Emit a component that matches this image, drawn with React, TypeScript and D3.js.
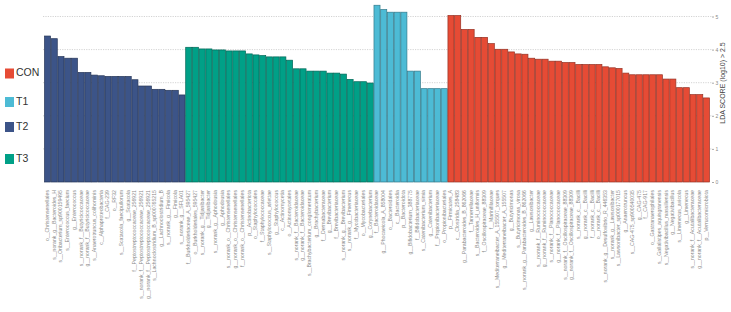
import React, { useRef, useEffect } from "react";
import * as d3 from "d3";

// group order along the x axis
const groups = ["T2", "T3", "T1", "CON"];
const legendGroups = ["CON", "T1", "T2", "T3"];
const groupColors = ["#E64B35", "#4DBBD5", "#3C5488", "#00A087"];

const t2Taxa = [
  "o__Christensenellales", "s__norank_g__Bacteroides_H", "s__Oribacterium_sp900159495", "s__Enterococcus_faecium",
  "g__Enterococcus", "s__norank_f__Butyricicoccaceae", "g__norank_f__Butyricicoccaceae", "s__Anaerotruncus_colihominis",
  "c__Alphaproteobacteria", "f__CAG-239", "o__RF32", "s__Scatacola_faecipullorum", "g__Scatacola",
  "f__Peptostreptococcaceae_256921", "s__norank_f__Peptostreptococcaceae_256921", "g__norank_f__Peptostreptococcaceae_256921",
  "s__Lachnoclostridium_B_sp000765215", "g__Lachnoclostridium_B", "s__norank_g__Fimicola", "g__Fimicola", "s__norank_g__SFLA01",
];
const t2Scores = [4.41, 4.33, 3.79, 3.74, 3.74, 3.31, 3.31, 3.23, 3.21, 3.19, 3.19, 3.19, 3.19, 3.09, 2.9, 2.9, 2.8, 2.8, 2.77, 2.77, 2.63];

const t3Taxa = [
  "f__Burkholderiaceae_A_595427", "o__Burkholderiales_595427", "s__norank_g__Tidjanibacter", "g__Tidjanibacter",
  "s__norank_g__Aphodousia", "g__Aphodousia", "s__norank_o__Christensenellales", "g__norank_o__Christensenellales",
  "f__norank_o__Christensenellales", "p__Actinobacteriota", "o__Staphylococcales", "f__Staphylococcaceae",
  "s__Staphylococcus_arlettae", "g__Staphylococcus", "c__Actinomycetia", "o__Actinomycetales",
  "s__norank_f__Bacteroidaceae", "g__norank_f__Bacteroidaceae", "s__Brachybacterium_conglomeratum", "g__Brachybacterium",
  "f__Dermabacteraceae", "g__Brevibacterium", "f__Brevibacteriaceae", "s__norank_g__Brevibacterium",
  "s__norank_g__Fimenecus", "f__Mycobacteriaceae", "o__Mycobacteriales", "g__Corynebacterium",
];
const t3Scores = [4.07, 4.07, 4.02, 4.02, 3.99, 3.99, 3.96, 3.96, 3.96, 3.87, 3.84, 3.82, 3.78, 3.78, 3.78, 3.68, 3.42, 3.42, 3.35, 3.35, 3.35, 3.29, 3.29, 3.26, 3.1, 3.03, 3.03, 2.99];

const t1Taxa = [
  "f__Bacteroidaceae", "g__Phocaeicola_A_858004", "o__Bacteroidales", "c__Bacteroidia", "p__Bacteroidota",
  "g__Bifidobacterium_388775", "f__Bifidobacteriaceae", "s__Catenibacterium_simia", "g__Catenibacterium",
  "f__Propionibacteriaceae", "o__Propionibacteriales",
];
const t1Scores = [5.34, 5.21, 5.13, 5.13, 5.13, 3.35, 3.35, 2.82, 2.82, 2.82, 2.82];

const conTaxa = [
  "p__Firmicutes_A", "c__Clostridia_258483", "g__Parabacteroides_B_862066", "f__Tannerellaceae",
  "s__Bacteroides_H_uniformis", "f__Oscillospiraceae_88309", "f__Marinifilaceae", "s__Mediterraneibacter_A_155507_torques",
  "g__Mediterraneibacter_A_155507", "g__Butyricimonas", "s__Butyricimonas_virosa", "s__norank_g__Parabacteroides_B_862066",
  "g__Lawsonibacter", "s__norank_f__Ruminococcaceae", "g__norank_f__Ruminococcaceae", "s__norank_f__Planococcaceae",
  "g__norank_f__Planococcaceae", "s__norank_f__Oscillospiraceae_88309", "g__norank_f__Oscillospiraceae_88309",
  "s__norank_c__Bacilli", "g__norank_c__Bacilli", "f__norank_c__Bacilli", "o__norank_c__Bacilli",
  "s__norank_g__Desulfovibrio_R_446353", "s__norank_g__Lawsonibacter", "s__Lawsonibacter_sp000177015", "g__Anaerotruncus",
  "s__CAG-475_sp900540035", "g__CAG-475", "f__CAG-917", "o__Gastranaerophilales", "s__Gallalistipes_aquisgranensis",
  "s__Negativibacillus_massiliensis", "g__Negativibacillus", "s__Limenecus_avicola", "g__Limenecus",
  "s__norank_f__Acutalibacteraceae", "g__norank_f__Acutalibacteraceae", "p__Verrucomicrobiota",
];
const conScores = [5.03, 5.03, 4.61, 4.61, 4.37, 4.37, 4.18, 4.01, 4.01, 3.93, 3.87, 3.86, 3.74, 3.71, 3.71, 3.65, 3.65, 3.61, 3.61, 3.55, 3.55, 3.55, 3.55, 3.48, 3.45, 3.43, 3.29, 3.24, 3.24, 3.24, 3.24, 3.24, 3.11, 3.11, 2.85, 2.85, 2.64, 2.64, 2.54];

const yTicks = [0, 1, 2, 3, 4, 5];

function LdaChart() {
  const svgRef = useRef<SVGSVGElement>(null);

  useEffect(() => {
    const width = 731, height = 312;

    const rows = [
      ...t2Taxa.map((t, i) => ({ taxon: t, score: t2Scores[i], group: "T2" })),
      ...t3Taxa.map((t, i) => ({ taxon: t, score: t3Scores[i], group: "T3" })),
      ...t1Taxa.map((t, i) => ({ taxon: t, score: t1Scores[i], group: "T1" })),
      ...conTaxa.map((t, i) => ({ taxon: t, score: conScores[i], group: "CON" })),
    ];

    const color = d3.scaleOrdinal<string, string>().domain(legendGroups).range(groupColors);
    const stroke = (g: string) => d3.color(color(g))!.darker(1.2).formatHex();

    const x = d3.scaleBand<number>()
      .domain(d3.range(rows.length))
      .range([44.5, 709.5])
      .paddingInner(0.1);

    const y = d3.scaleLinear().domain([0, 5]).range([182, 16.5]);

    const svg = d3.select(svgRef.current);
    svg.selectAll("*").remove();
    svg.attr("width", width).attr("height", height);

    // dotted grid
    svg.append("g")
      .selectAll("line")
      .data(yTicks.filter(d => d > 0))
      .join("line")
        .attr("x1", 43)
        .attr("x2", 712)
        .attr("y1", d => y(d))
        .attr("y2", d => y(d))
        .attr("stroke", "#c8c8c8")
        .attr("stroke-width", 0.8)
        .attr("stroke-dasharray", "1.2,1.2");

    // right axis
    const yAxis = d3.axisRight(y).tickValues(yTicks).tickFormat(d3.format("d")).tickSize(2).tickPadding(1.5);
    const ax = svg.append("g")
      .attr("transform", "translate(712,0)")
      .call(yAxis);
    ax.select(".domain").remove();
    ax.selectAll("line").attr("stroke", "#aaa");
    ax.selectAll("text")
      .attr("fill", "#888")
      .attr("font-size", 5)
      .attr("font-family", "Liberation Sans, Arial, sans-serif");

    svg.append("text")
      .attr("transform", `translate(723,83) rotate(-90)`)
      .attr("text-anchor", "middle")
      .attr("dominant-baseline", "middle")
      .attr("font-size", 7)
      .attr("font-family", "Liberation Sans, Arial, sans-serif")
      .attr("fill", "#444")
      .text("LDA SCORE (log10) > 2.5");

    // bars
    svg.append("g")
      .selectAll("rect")
      .data(rows)
      .join("rect")
        .attr("x", (d, i) => x(i)!)
        .attr("y", d => y(d.score))
        .attr("width", x.bandwidth())
        .attr("height", d => y(0) - y(d.score))
        .attr("fill", d => color(d.group))
        .attr("stroke", d => stroke(d.group))
        .attr("stroke-width", 0.7);

    // taxon labels
    svg.append("g")
      .selectAll("text")
      .data(rows)
      .join("text")
        .attr("transform", (d, i) => `translate(${x(i)! + x.bandwidth() / 2},190) rotate(-90)`)
        .attr("text-anchor", "end")
        .attr("dominant-baseline", "middle")
        .attr("font-size", 5.2)
        .attr("font-family", "Liberation Sans, Arial, sans-serif")
        .attr("fill", "#8a8a8a")
        .text(d => d.taxon);

    // legend
    const legendY = [73.5, 102, 127, 159];
    const legend = svg.append("g")
      .selectAll("g")
      .data(legendGroups)
      .join("g")
        .attr("transform", (d, i) => `translate(5,${legendY[i]})`);
    legend.append("rect")
      .attr("x", 0)
      .attr("y", -5)
      .attr("width", 9)
      .attr("height", 10)
      .attr("fill", d => color(d));
    legend.append("text")
      .attr("x", 11)
      .attr("y", 0)
      .attr("dominant-baseline", "middle")
      .attr("font-size", 10.5)
      .attr("font-family", "Liberation Sans, Arial, sans-serif")
      .attr("fill", "#333")
      .text(d => d);
  }, []);

  return <svg ref={svgRef} style={{ display: "block" }}></svg>;
}

export default function App() {
  return (
    <div style={{ position: "absolute", left: 0, top: 0 }}>
      <LdaChart />
    </div>
  );
}
